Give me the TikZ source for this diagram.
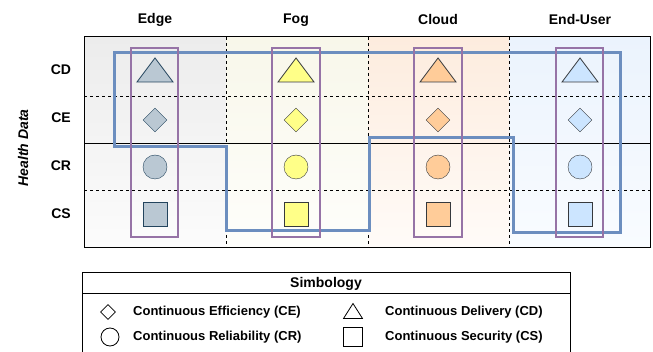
\documentclass[tikz,border=0pt]{standalone}
\usepackage{fontspec}
\setmainfont{Liberation Sans}
\usetikzlibrary{shapes.geometric}
\definecolor{edgef}{HTML}{BAC8D3}
\definecolor{edged}{HTML}{23445D}
\definecolor{fogf}{HTML}{FFFF88}
\definecolor{cloudf}{HTML}{FFCC99}
\definecolor{userf}{HTML}{CCE5FF}
\definecolor{shd}{HTML}{36393D}
\definecolor{purp}{HTML}{9673A6}
\definecolor{bluel}{HTML}{6C8EBF}
\tikzset{
  lbl/.style={font=\bfseries\fontsize{14}{16}\selectfont, inner sep=0pt},
  leg/.style={font=\bfseries\fontsize{13}{15}\selectfont, inner sep=0pt, anchor=west},
  dia/.style={diamond, aspect=1, minimum width=24pt, minimum height=24pt, inner sep=0pt, draw},
  circ/.style={circle, minimum size=24pt, inner sep=0pt, draw},
  sq/.style={rectangle, minimum size=24pt, inner sep=0pt, draw},
  grid/.style={line width=0.8pt, dash pattern=on 3pt off 3pt},
  colbox/.style={draw=purp, line width=2pt},
  path1/.style={draw=bluel, line width=3pt},
}
\newcommand{\tri}[4]{% x, y, w/2, h/2
  (#1-#3,#2+#4) -- (#1+#3,#2+#4) -- (#1,#2-#4) -- cycle}
\begin{document}
\begin{tikzpicture}[x=1pt,y=-1pt]
\useasboundingbox (0,0) rectangle (653,352);
% column backgrounds
\shade[top color={rgb,255:red,236;green,236;blue,236}, bottom color={rgb,255:red,252;green,252;blue,252}] (84,37) rectangle (226,248);
\shade[top color={rgb,255:red,248;green,247;blue,234}, bottom color={rgb,255:red,254;green,254;blue,251}] (226,37) rectangle (368,248);
\shade[top color={rgb,255:red,253;green,236;blue,222}, bottom color={rgb,255:red,255;green,251;blue,248}] (368,37) rectangle (509,248);
\shade[top color={rgb,255:red,235;green,243;blue,253}, bottom color={rgb,255:red,249;green,252;blue,255}] (509,37) rectangle (650,248);
% grid
\draw[grid] (84,96) -- (650,96);
\draw[line width=0.8pt] (84,143) -- (650,143);
\draw[grid] (84,190) -- (650,190);
\draw[grid] (226,37) -- (226,248);
\draw[grid] (368,37) -- (368,248);
\draw[grid] (509,37) -- (509,248);
\draw[line width=1pt] (84,37) rectangle (650,248);
% headings
\node[lbl] (hedge) at (155,20) {Edge};
\node[lbl] (hfog) at (296,20) {Fog};
\node[lbl] (hcloud) at (438,20) {Cloud};
\node[lbl] (huser) at (580,20) {End-User};
\node[lbl] (rcd) at (61,70) {CD};
\node[lbl] (rce) at (61,118) {CE};
\node[lbl] (rcr) at (61,166) {CR};
\node[lbl] (rcs) at (61,214) {CS};
\node[lbl, font=\bfseries\itshape\fontsize{14}{16}\selectfont, rotate=90] (hd) at (23,148) {Health Data};
% blue path
\draw[path1] (114,53) -- (620,53) -- (620,233) -- (513,233) -- (513,138) -- (369,138) -- (369,231) -- (226,231) -- (226,147) -- (114,147) -- cycle;
% purple columns
\draw[colbox] (131,48) rectangle (178,237);
\draw[colbox] (272,48) rectangle (320,237);
\draw[colbox] (414,48) rectangle (462,237);
\draw[colbox] (556,48) rectangle (603,237);
% shapes
\draw[fill=edgef, draw=edged, line width=0.8pt] \tri{155}{70}{18}{12};
\draw[fill=fogf, draw=shd, line width=0.8pt] \tri{296}{70}{18}{12};
\draw[fill=cloudf, draw=shd, line width=0.8pt] \tri{438}{70}{18}{12};
\draw[fill=userf, draw=shd, line width=0.8pt] \tri{580}{70}{18}{12};
\node[dia, fill=edgef, draw=edged] (ce1) at (155,120) {};
\node[dia, fill=fogf, draw=shd] (ce2) at (296,120) {};
\node[dia, fill=cloudf, draw=shd] (ce3) at (438,120) {};
\node[dia, fill=userf, draw=shd] (ce4) at (580,120) {};
\node[circ, fill=edgef, draw=edged] (cr1) at (155,167) {};
\node[circ, fill=fogf, draw=shd] (cr2) at (296,167) {};
\node[circ, fill=cloudf, draw=shd] (cr3) at (438,167) {};
\node[circ, fill=userf, draw=shd] (cr4) at (580,167) {};
\node[sq, fill=edgef, draw=edged] (cs1) at (155,214) {};
\node[sq, fill=fogf, draw=shd] (cs2) at (296,214) {};
\node[sq, fill=cloudf, draw=shd] (cs3) at (438,214) {};
\node[sq, fill=userf, draw=shd] (cs4) at (580,214) {};
% legend
\draw[line width=1pt] (82,360) -- (82,273) -- (570,273) -- (570,360);
\draw[line width=1pt] (82,294) -- (570,294);
\node[lbl] (simb) at (326,284) {Simbology};
\node[diamond, aspect=1, draw, line width=0.8pt, minimum size=15pt, inner sep=0pt] (ldia) at (108,312) {};
\node[circle, draw, line width=0.8pt, minimum size=18pt, inner sep=0pt] (lcir) at (110,337) {};
\draw[line width=0.8pt] \tri{353}{311}{9.5}{7.5};
\node[rectangle, draw, line width=0.8pt, minimum size=19pt, inner sep=0pt] (lsq) at (353,337) {};
\node[leg] (t1) at (133,312) {Continuous Efficiency (CE)};
\node[leg] (t2) at (133,337) {Continuous Reliability (CR)};
\node[leg] (t3) at (385,312) {Continuous Delivery (CD)};
\node[leg] (t4) at (385,337) {Continuous Security (CS)};
\end{tikzpicture}
\end{document}
